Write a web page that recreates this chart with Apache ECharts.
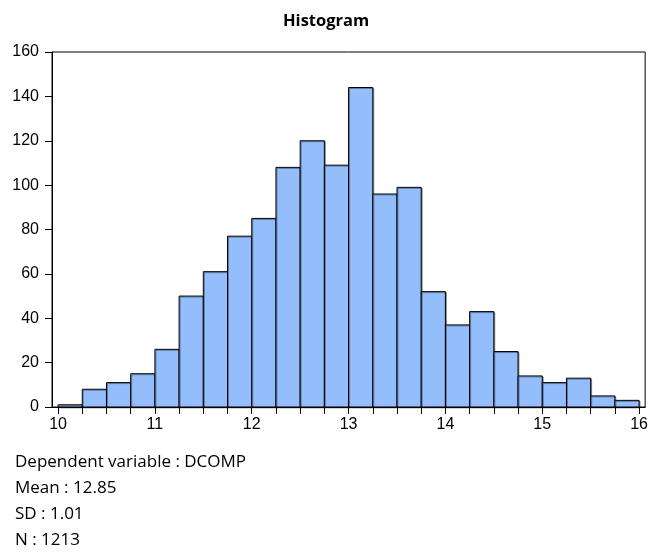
<!DOCTYPE html>
<html>
<head>
<meta charset="utf-8">
<script src="https://cdn.jsdelivr.net/npm/echarts@6/dist/echarts.min.js"></script>
<style>
  html, body { margin: 0; padding: 0; background: #fff; }
  #main { width: 651px; height: 552px; }
</style>
</head>
<body>
<div id="main"></div>
<script>
var binStart = [10, 10.25, 10.5, 10.75, 11, 11.25, 11.5, 11.75, 12, 12.25, 12.5, 12.75,
  13, 13.25, 13.5, 13.75, 14, 14.25, 14.5, 14.75, 15, 15.25, 15.5, 15.75];
var binWidth = 0.25;
var counts = [1, 8, 11, 15, 26, 50, 61, 77, 85, 108, 120, 109,
  144, 96, 99, 52, 37, 43, 25, 14, 11, 13, 5, 3];
var xTicks = [10, 10.25, 10.5, 10.75, 11, 11.25, 11.5, 11.75, 12, 12.25, 12.5, 12.75,
  13, 13.25, 13.5, 13.75, 14, 14.25, 14.5, 14.75, 15, 15.25, 15.5, 15.75, 16];
var xLabels = [10, 11, 12, 13, 14, 15, 16];
var statLines = ['Dependent variable : DCOMP', 'Mean : 12.85', 'SD : 1.01', 'N : 1213'];

var chart = echarts.init(document.getElementById('main'));

var data = binStart.map(function (s, i) {
  return [s, s + binWidth, counts[i]];
});

var options = {
  animation: false,
  grid: {
    left: 52,
    right: 5,
    top: 52,
    bottom: 145,
    show: true,
    borderColor: '#000',
    borderWidth: 1
  },
  graphic: [
    {
      type: 'text',
      left: 283,
      top: 13,
      style: {
        text: 'Histogram',
        font: 'bold 16.5px "Open Sans"',
        fill: '#000'
      }
    },
    {
      type: 'text',
      left: 15,
      top: 449,
      style: {
        text: statLines.join('\n'),
        font: '17px "Open Sans"',
        lineHeight: 26,
        fill: '#000'
      }
    }
  ],
  xAxis: {
    type: 'value',
    min: 9.9375,
    max: 16.0625,
    splitLine: { show: false },
    axisLine: { lineStyle: { color: '#000' } },
    axisTick: { customValues: xTicks, length: 7, lineStyle: { color: '#000' } },
    axisLabel: {
      customValues: xLabels,
      margin: 10,
      color: '#000',
      fontFamily: 'Liberation Sans',
      fontSize: 16
    }
  },
  yAxis: {
    type: 'value',
    min: 0,
    max: 160,
    interval: 20,
    splitLine: { show: false },
    axisLine: { show: true, lineStyle: { color: '#000' } },
    axisTick: { show: true, length: 7, lineStyle: { color: '#000' } },
    axisLabel: {
      margin: 13,
      color: '#000',
      fontFamily: 'Liberation Sans',
      fontSize: 16
    }
  },
  series: [
    {
      type: 'custom',
      data: data,
      renderItem: function (params, api) {
        var p0 = api.coord([api.value(0), api.value(2)]);
        var p1 = api.coord([api.value(1), 0]);
        return {
          type: 'rect',
          shape: { x: p0[0], y: p0[1], width: p1[0] - p0[0], height: p1[1] - p0[1] },
          style: {
            fill: '#94bdfb',
            stroke: '#000',
            lineWidth: 1,
            shadowColor: 'rgba(0,0,0,0.35)',
            shadowOffsetX: 1,
            shadowOffsetY: 1,
            shadowBlur: 0
          }
        };
      }
    }
  ]
};

chart.setOption(options);
</script>
</body>
</html>
